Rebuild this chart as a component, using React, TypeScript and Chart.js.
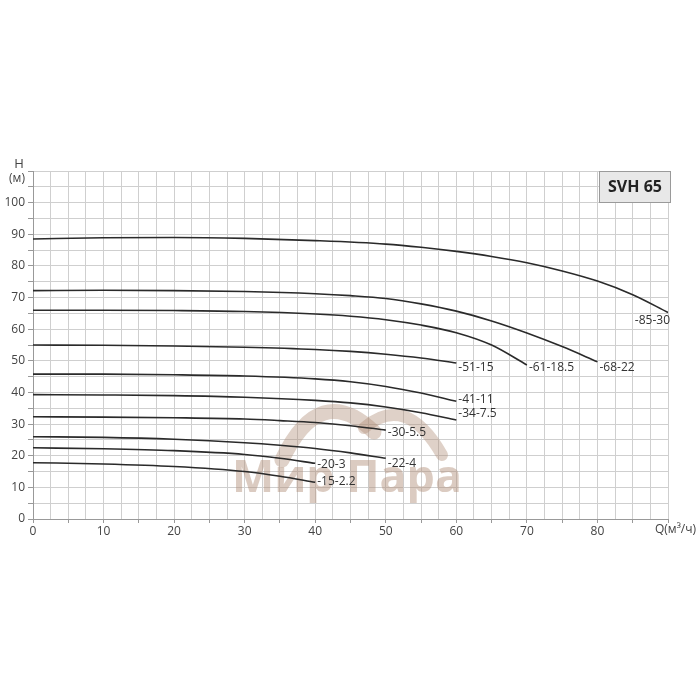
import React, { useEffect, useRef } from 'react';
import { Chart, registerables } from 'chart.js';
Chart.register(...registerables);

// ---- data (Q in m3/h, H in m) ----
const SERIES_NAMES = ['-85-30', '-68-22', '-61-18.5', '-51-15', '-41-11', '-34-7.5', '-30-5.5', '-22-4', '-20-3', '-15-2.2'];

const Q_85_30 = [0, 10, 20, 30, 40, 50, 55, 60, 65, 70, 75, 80, 85, 90];
const H_85_30 = [88.5, 88.9, 89.0, 88.7, 88.0, 86.9, 85.9, 84.6, 83.0, 81.0, 78.4, 75.2, 70.9, 65.3];

const Q_68_22 = [0, 10, 20, 30, 40, 45, 50, 55, 60, 65, 70, 75, 80];
const H_68_22 = [72.2, 72.3, 72.2, 71.9, 71.2, 70.6, 69.7, 68.0, 65.7, 62.6, 58.8, 54.5, 49.7];

const Q_61_18 = [0, 10, 20, 30, 40, 45, 50, 55, 60, 65, 70];
const H_61_18 = [66.0, 66.0, 65.9, 65.6, 64.8, 64.1, 63.0, 61.3, 58.9, 55.0, 48.7];

const Q_51_15 = [0, 10, 20, 30, 40, 45, 50, 55, 60];
const H_51_15 = [55.0, 54.9, 54.7, 54.3, 53.6, 53.0, 52.1, 50.9, 49.3];

const Q_41_11 = [0, 10, 20, 30, 40, 45, 50, 55, 60];
const H_41_11 = [45.8, 45.8, 45.6, 45.2, 44.3, 43.4, 41.9, 39.8, 37.2];

const Q_34_7 = [0, 10, 20, 30, 40, 45, 50, 55, 60];
const H_34_7 = [39.3, 39.2, 39.0, 38.5, 37.5, 36.7, 35.4, 33.6, 31.3];

const Q_30_5 = [0, 10, 20, 30, 35, 40, 45, 50];
const H_30_5 = [32.3, 32.2, 32.0, 31.6, 31.1, 30.5, 29.5, 28.1];

const Q_22_4 = [0, 10, 20, 30, 35, 40, 45, 50];
const H_22_4 = [26.0, 25.8, 25.2, 24.1, 23.3, 22.3, 20.9, 19.2];

const Q_20_3 = [0, 10, 20, 30, 35, 40];
const H_20_3 = [22.5, 22.2, 21.6, 20.4, 19.2, 17.6];

const Q_15_2 = [0, 10, 20, 30, 35, 40];
const H_15_2 = [17.8, 17.4, 16.6, 15.0, 13.5, 11.6];

const SERIES_Q = [Q_85_30, Q_68_22, Q_61_18, Q_51_15, Q_41_11, Q_34_7, Q_30_5, Q_22_4, Q_20_3, Q_15_2];
const SERIES_H = [H_85_30, H_68_22, H_61_18, H_51_15, H_41_11, H_34_7, H_30_5, H_22_4, H_20_3, H_15_2];

const X_MAX = 90;
const Y_MAX = 110;
const X_LABEL = 'Q(м³/ч)';
const Y_LABEL_1 = 'H';
const Y_LABEL_2 = '(м)';
const TITLE = 'SVH 65';
const WATERMARK = 'Мир Пара';

// label vertical offsets (px) relative to curve end
const LABEL_DY = [8, 6, 3, 5, -2, -6, 2, 5, 1, -1];

const FONT = '"Open Sans", "DejaVu Sans", sans-serif';

const overlay = {
  id: 'overlay',
  beforeDatasetsDraw(chart: any) {
    const { ctx } = chart;
    ctx.save();
    // watermark arches
    ctx.strokeStyle = 'rgba(175,140,118,0.4)';
    ctx.lineCap = 'round';
    ctx.lineWidth = 15;
    ctx.beginPath();
    ctx.moveTo(282, 460);
    ctx.quadraticCurveTo(320, 380, 374, 432);
    ctx.stroke();
    ctx.lineWidth = 12;
    ctx.beginPath();
    ctx.moveTo(364, 428);
    ctx.quadraticCurveTo(406, 392, 442, 455);
    ctx.stroke();
    // watermark text
    ctx.fillStyle = 'rgba(175,140,118,0.45)';
    let size = 50;
    ctx.font = `bold ${size}px ${FONT}`;
    const w = ctx.measureText(WATERMARK).width;
    size = (size * 230) / w;
    ctx.font = `bold ${size}px ${FONT}`;
    ctx.textAlign = 'left';
    ctx.textBaseline = 'alphabetic';
    ctx.fillText(WATERMARK, 232, 492);
    ctx.restore();
  },
  afterDatasetsDraw(chart: any) {
    const { ctx, chartArea, scales } = chart;
    ctx.save();
    // curve labels
    ctx.fillStyle = '#333';
    ctx.font = `12px ${FONT}`;
    ctx.textBaseline = 'middle';
    chart.data.datasets.forEach((ds: any, i: number) => {
      const meta = chart.getDatasetMeta(i);
      const pt = meta.data[meta.data.length - 1];
      if (!pt) return;
      ctx.textAlign = i === 0 ? 'right' : 'left';
      ctx.fillText(ds.label, pt.x + 2, pt.y + LABEL_DY[i]);
    });
    // axis labels
    ctx.fillStyle = '#444';
    ctx.font = `13px ${FONT}`;
    ctx.textAlign = 'center';
    ctx.fillText(Y_LABEL_1, chartArea.left - 14, chartArea.top - 7);
    ctx.font = `12px ${FONT}`;
    ctx.fillText(Y_LABEL_2, chartArea.left - 16, chartArea.top + 8);
    ctx.textAlign = 'left';
    ctx.fillText(X_LABEL, scales.x.getPixelForValue(X_MAX) - 13, chartArea.bottom + 11);
    // title box
    const bx = chartArea.right - 69;
    const by = chartArea.top;
    ctx.fillStyle = '#e8e8e8';
    ctx.fillRect(bx, by, 71, 31);
    ctx.strokeStyle = '#9a9a9a';
    ctx.lineWidth = 1;
    ctx.strokeRect(bx + 0.5, by + 0.5, 71, 31);
    ctx.fillStyle = '#222';
    ctx.font = `bold 16px ${FONT}`;
    ctx.textAlign = 'center';
    ctx.fillText(TITLE, bx + 36, by + 16);
    ctx.restore();
  },
};

export default function App() {
  const ref = useRef<HTMLCanvasElement>(null);
  useEffect(() => {
    if (!ref.current) return;
    const datasets = SERIES_NAMES.map((name, i) => ({
      label: name,
      data: SERIES_Q[i].map((q, j) => ({ x: q, y: SERIES_H[i][j] })),
      borderColor: '#2a2a2a',
      borderWidth: 1.6,
      pointRadius: 0,
      fill: false,
      cubicInterpolationMode: 'monotone' as const,
    }));
    const chart = new Chart(ref.current, {
      type: 'line',
      data: { datasets },
      options: {
        animation: false,
        responsive: false,
        layout: { padding: { left: 0, top: 171, right: 32, bottom: 156 } },
        plugins: { legend: { display: false }, tooltip: { enabled: false } },
        scales: {
          x: {
            type: 'linear',
            min: 0,
            max: X_MAX,
            border: { color: '#999', width: 1 },
            grid: {
              color: '#cfcfcf',
              lineWidth: 1,
              tickLength: 4,
              tickColor: (c: any) => (c.tick && c.tick.value % 5 === 0 ? '#999' : 'rgba(0,0,0,0)'),
            },
            ticks: {
              stepSize: 2.5,
              autoSkip: false,
              maxRotation: 0,
              padding: 1,
              color: '#444',
              font: { family: FONT, size: 12 },
              callback: (v: any) => (v % 10 === 0 && v < X_MAX ? String(v) : ''),
            },
            afterFit: (s: any) => {
              s.height = 25;
            },
          },
          y: {
            type: 'linear',
            min: 0,
            max: Y_MAX,
            border: { color: '#999', width: 1 },
            grid: {
              color: '#cfcfcf',
              lineWidth: 1,
              tickLength: 5,
              tickColor: '#999',
            },
            ticks: {
              stepSize: 5,
              autoSkip: false,
              padding: 3,
              color: '#444',
              font: { family: FONT, size: 12 },
              callback: (v: any) => (v % 10 === 0 && v < Y_MAX ? String(v) : ''),
            },
            afterFit: (s: any) => {
              s.width = 33;
            },
          },
        },
      },
      plugins: [overlay],
    });
    return () => chart.destroy();
  }, []);
  return (
    <div style={{ position: 'absolute', left: 0, top: 0, width: 700, height: 700, background: '#fff' }}>
      <canvas ref={ref} width={700} height={700} style={{ width: 700, height: 700, display: 'block' }} />
    </div>
  );
}
